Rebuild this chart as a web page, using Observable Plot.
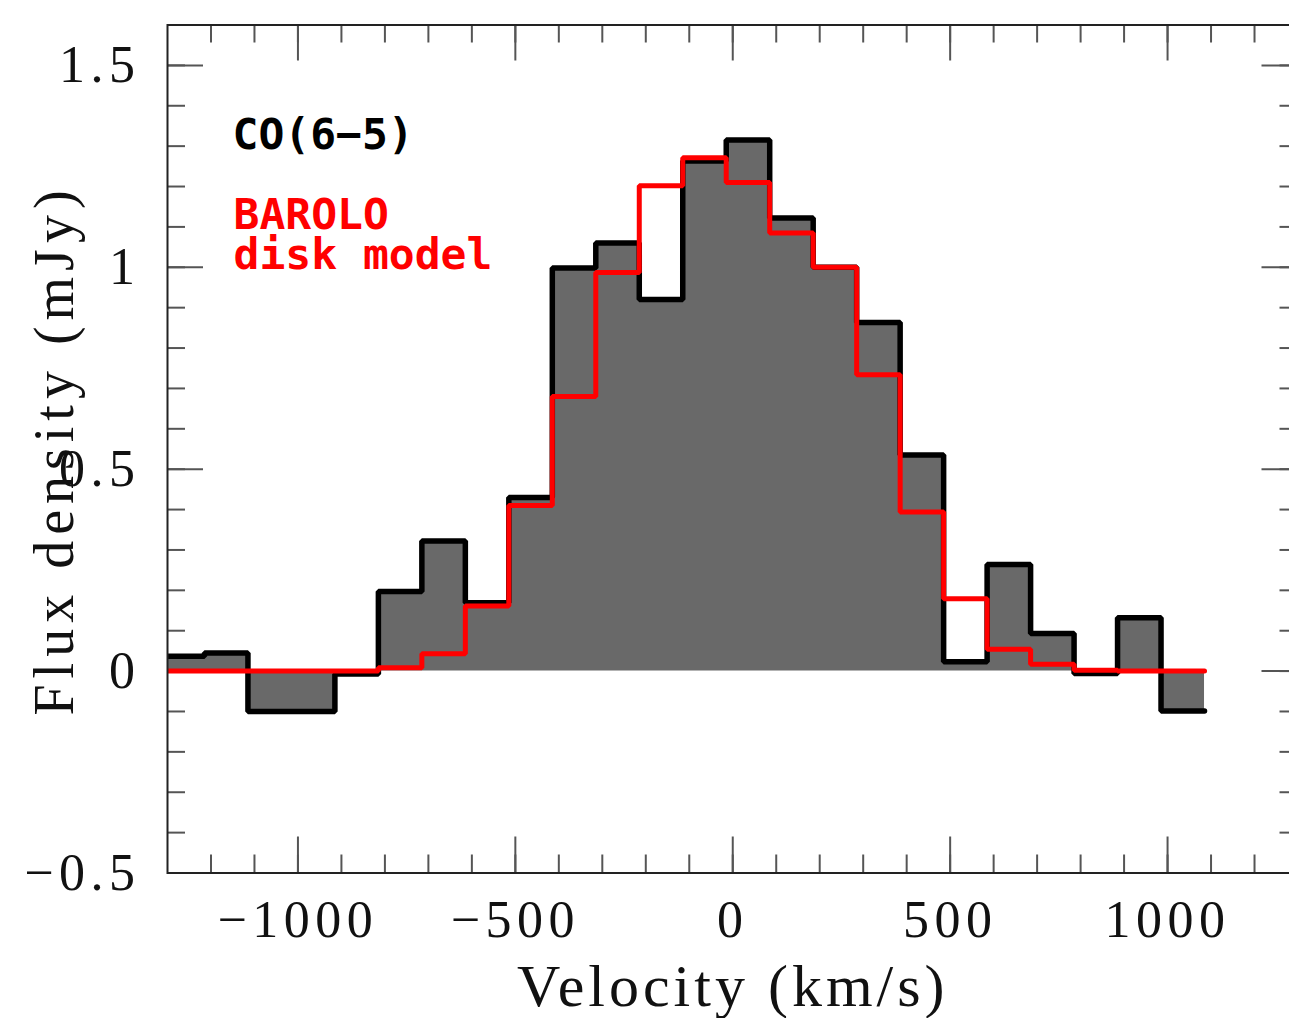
<!DOCTYPE html>
<html><head><meta charset="utf-8">
<script src="https://cdn.jsdelivr.net/npm/d3@7"></script>
<script src="https://cdn.jsdelivr.net/npm/@observablehq/plot@0.6"></script>
<style>
html,body{margin:0;padding:0;background:#fff;overflow:hidden;}
#chart svg{display:block;max-width:none !important;}
</style></head><body><div id="chart"></div>
<script>
// Channel centres (km/s), 100 km/s wide channels
const velocity = [-1265,-1165,-1065,-965,-865,-765,-665,-565,-465,-365,-265,-165,-65,35,135,235,335,435,535,635,735,835,935,1035];
const binWidth = 100;
// Observed CO(6-5) flux density (mJy)
const fluxObserved = [0.037,0.045,-0.100,-0.100,-0.007,0.197,0.322,0.169,0.430,0.998,1.060,0.920,1.263,1.315,1.122,1.000,0.863,0.535,0.023,0.264,0.093,-0.006,0.132,-0.099];
// BAROLO disk model (mJy)
const fluxModel = [0,0,0,0,0,0.008,0.043,0.161,0.410,0.680,0.987,1.202,1.271,1.210,1.085,1.000,0.734,0.394,0.179,0.054,0.017,0.002,0,0];

const xTicksMajor = [-1000,-500,0,500,1000];
const xTicksMinor = [-1200,-1100,-1000,-900,-800,-700,-600,-500,-400,-300,-200,-100,0,100,200,300,400,500,600,700,800,900,1000,1100,1200];
const yTicksMajor = [-0.5,0,0.5,1,1.5];
const yTicksMinor = [-0.4,-0.3,-0.2,-0.1,0,0.1,0.2,0.3,0.4,0.5,0.6,0.7,0.8,0.9,1.0,1.1,1.2,1.3,1.4,1.5];

const xLabel = "Velocity (km/s)";
const yLabel = "Flux density (mJy)";
const lineLabel = "CO(6\u22125)";
const modelLabel = "BAROLO\ndisk model";

// step data at channel edges
function steps(vals) {
  const out = velocity.map((v, i) => ({v: v - binWidth / 2, f: vals[i]}));
  out.push({v: velocity[velocity.length - 1] + binWidth / 2, f: vals[vals.length - 1]});
  return out;
}
const obsSteps = steps(fluxObserved);
const modSteps = steps(fluxModel);

const W = 1300, H = 1018, mL = 167, mR = 2.5, mT = 24.5, mB = 145.5;
const fW = W - mL - mR, fH = H - mT - mB;
const minorLen = 18, majorLen = 36;
const tickColor = "#555";
const fmt = d => (d < 0 ? "\u2212" : "") + Math.abs(d);
const serif = "'Liberation Serif', 'Times New Roman', serif";
const mono = "'DejaVu Sans Mono', monospace";

const plot = Plot.plot({
  width: W, height: H,
  marginLeft: mL, marginRight: mR, marginTop: mT, marginBottom: mB,
  style: {maxWidth: "none"},
  x: {domain: [-1300, 1300]},
  y: {domain: [-0.5, 1.6]},
  marks: [
    // ticks, inward on all four sides
    Plot.ruleX(xTicksMinor, {x: d => d, insetTop: fH - minorLen, stroke: tickColor, strokeWidth: 2}),
    Plot.ruleX(xTicksMajor, {x: d => d, insetTop: fH - majorLen, stroke: tickColor, strokeWidth: 2}),
    Plot.ruleX(xTicksMinor, {x: d => d, insetBottom: fH - minorLen, stroke: tickColor, strokeWidth: 2}),
    Plot.ruleX(xTicksMajor, {x: d => d, insetBottom: fH - majorLen, stroke: tickColor, strokeWidth: 2}),
    Plot.ruleY(yTicksMinor, {y: d => d, insetRight: fW - minorLen, stroke: tickColor, strokeWidth: 2}),
    Plot.ruleY(yTicksMajor, {y: d => d, insetRight: fW - majorLen, stroke: tickColor, strokeWidth: 2}),
    Plot.ruleY(yTicksMinor, {y: d => d, insetLeft: fW - minorLen, stroke: tickColor, strokeWidth: 2}),
    Plot.ruleY(yTicksMajor, {y: d => d, insetLeft: fW - majorLen, stroke: tickColor, strokeWidth: 2}),
    // data
    Plot.areaY(obsSteps, {x: "v", y: "f", curve: "step-after", fill: "#696969", clip: true}),
    Plot.line(obsSteps, {x: "v", y: "f", curve: "step-after", stroke: "#000", strokeWidth: 5.5, strokeLinejoin: "miter", clip: true}),
    Plot.line(modSteps, {x: "v", y: "f", curve: "step-after", stroke: "#ff0000", strokeWidth: 5, strokeLinejoin: "miter", clip: true}),
    Plot.frame({stroke: "#222", strokeWidth: 2}),
    // axes
    Plot.axisX(xTicksMajor, {anchor: "bottom", tickSize: 0, tickPadding: 27, tickFormat: fmt, fontSize: 52, fontFamily: serif, label: null, color: "#111"}),
    Plot.axisY(yTicksMajor, {anchor: "left", tickSize: 0, tickPadding: 27, tickFormat: fmt, fontSize: 52, fontFamily: serif, label: null, color: "#111"}),
    Plot.text([xLabel], {frameAnchor: "bottom", textAnchor: "middle", lineAnchor: "bottom", dy: 132.5, fontSize: 60, fontFamily: serif, fill: "#111"}),
    Plot.text([yLabel], {frameAnchor: "left", textAnchor: "middle", rotate: -90, lineAnchor: "bottom", dx: -95, dy: 1, fontSize: 56, fontFamily: serif, fill: "#111"}),
    // annotations
    Plot.text([lineLabel], {frameAnchor: "top-left", textAnchor: "start", lineAnchor: "bottom", dx: 65, dy: 123.5, fontSize: 43, fontWeight: "bold", fontFamily: mono, fill: "#000"}),
    Plot.text([modelLabel], {frameAnchor: "top-left", textAnchor: "start", lineAnchor: "bottom", dx: 66, dy: 243.5, lineHeight: 0.93, fontSize: 43, fontWeight: "bold", fontFamily: mono, fill: "#ff0000"})
  ]
});
plot.querySelectorAll("g[font-family*='Liberation Serif']").forEach(g => {
  const fs = +g.getAttribute("font-size");
  g.setAttribute("letter-spacing", fs === 56 ? "6px" : fs === 52 ? "5.5px" : "4px");
});
document.getElementById("chart").appendChild(plot);
</script></body></html>
